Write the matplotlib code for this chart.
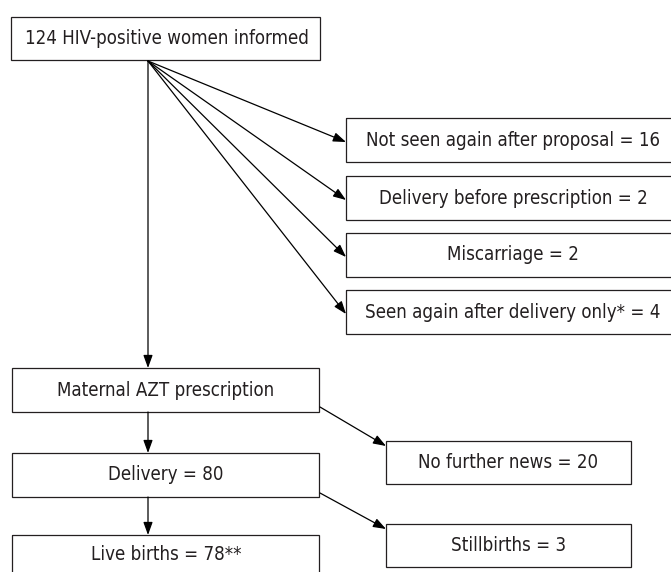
import matplotlib
matplotlib.use('Agg')
import matplotlib.pyplot as plt
from matplotlib import font_manager as fm
from matplotlib.patches import Rectangle

# Data
informed_label = "124 HIV-positive women informed"
excluded_labels = ["Not seen again after proposal", "Delivery before prescription",
                   "Miscarriage", "Seen again after delivery only*"]
excluded_n = [16, 2, 2, 4]
main_labels = ["Maternal AZT prescription", "Delivery", "Live births"]
main_n = ["", "80", "78**"]
side_labels = ["No further news", "Stillbirths"]
side_n = [20, 3]

# Font: condensed sans if available
names = {f.name for f in fm.fontManager.ttflist}
if 'Liberation Sans Narrow' in names:
    FONT = dict(family='Liberation Sans Narrow')
else:
    FONT = dict(family='DejaVu Sans', stretch='condensed')
FS = 13.4
TC = '#231f20'

fig = plt.figure(figsize=(6.71, 5.72), dpi=100)
ax = fig.add_axes([0, 0, 1, 1])
ax.set_xlim(0, 671)
ax.set_ylim(572, 0)
ax.axis('off')

LW = 0.9
EC = '#231f20'


def box(x0, y0, x1, y1, text, tx=None, ty=None):
    ax.add_patch(Rectangle((x0, y0), x1 - x0, y1 - y0, fill=False,
                           lw=LW, ec=EC, clip_on=True))
    if tx is None:
        tx = (x0 + x1) / 2
    if ty is None:
        ty = (y0 + y1) / 2
    ax.text(tx, ty, text, ha='center', va='center',
            fontsize=FS, color=TC, **FONT)


def arrow(p0, p1):
    ax.annotate('', xy=p1, xytext=p0,
                arrowprops=dict(arrowstyle='-|>,head_length=0.55,head_width=0.2',
                                mutation_scale=14, lw=LW, color='black',
                                shrinkA=0, shrinkB=0))


# Top box
box(11, 17, 320, 60, informed_label, tx=167)
src = (148, 61)

# Exclusion boxes on the right
ex_tops = [118, 176, 233, 290]
ex_h = 44
for lab, n, yt in zip(excluded_labels, excluded_n, ex_tops):
    box(346, yt, 682, yt + ex_h, f"{lab} = {n}", tx=513)
    arrow(src, (346, yt + ex_h / 2 + 2))

# Main column
main_tops = [368, 453, 535]
main_bottoms = [412, 497, 590]
arrow(src, (148, main_tops[0]))
for i, (lab, n) in enumerate(zip(main_labels, main_n)):
    text = lab if n == "" else f"{lab} = {n}"
    ty = 555 if i == 2 else None
    box(12, main_tops[i], 319, main_bottoms[i], text, tx=166, ty=ty)
    if i < 2:
        arrow((148, main_bottoms[i]), (148, main_tops[i + 1]))

# Side boxes
side_tops = [441, 524]
side_src = [(320, 407), (320, 493)]
for lab, n, yt, s in zip(side_labels, side_n, side_tops, side_src):
    box(386, yt, 631, yt + 43, f"{lab} = {n}")
    arrow(s, (386, yt + 5))

fig.savefig('out.png', dpi=100)
